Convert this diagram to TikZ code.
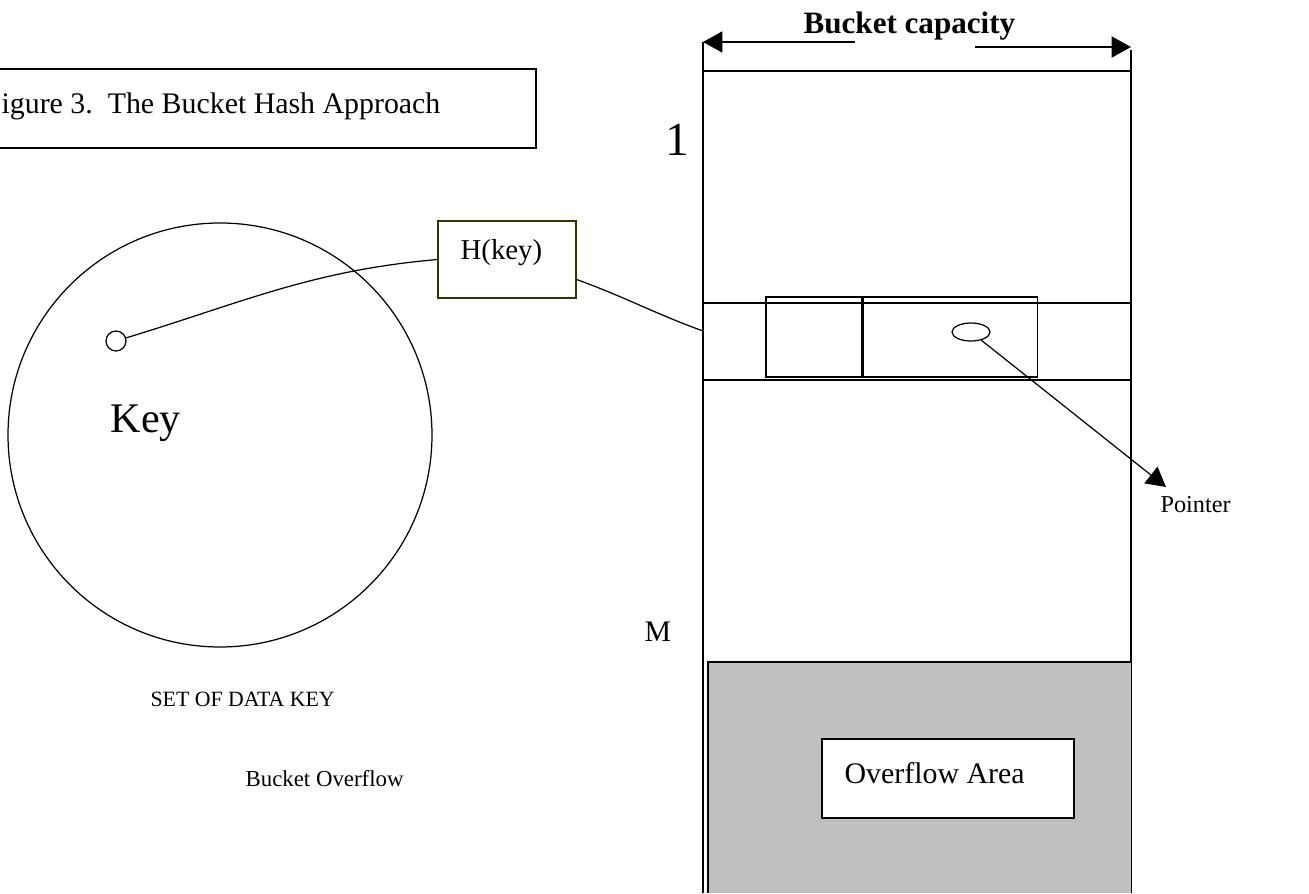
\documentclass[tikz,border=0pt]{standalone}
\usepackage{fontspec}
\setmainfont{Liberation Serif}
\usepackage{tikz}
\usetikzlibrary{shapes.geometric,positioning,arrows.meta,calc}
\definecolor{areagray}{HTML}{C0C0C0}
\definecolor{olive}{HTML}{333300}

\begin{document}
\begin{tikzpicture}[x=0.02cm,y=-0.02cm,line width=0.7pt,
    txt/.style={inner sep=0, anchor=base west, font=\fontsize{#1pt}{#1pt}\selectfont},
    cell/.style={draw, rectangle, inner sep=0, minimum height=80*0.02cm},
    head/.style={-{Triangle[length=11pt,width=12pt]}}]
    \clip (0,0) rectangle (1309,893);

    % title
    \draw (-40,69) rectangle (536,148);
    \node[txt=17] (title) at (1,113) {igure 3.\ \ The Bucket Hash Approach};

    % set of keys
    \draw (220,435) circle (212);
    \node[draw, circle, inner sep=0, minimum size=20*0.02cm] (key) at (116,341) {};
    \node[txt=24] (keylbl) at (110,432) {Key};
    \node[txt=12.4] (setlbl) at (150,706) {SET OF DATA KEY};
    \node[txt=13] (ovlbl) at (245,786) {Bucket Overflow};

    % hash function
    \node[draw=olive, rectangle, inner sep=0, minimum width=138*0.02cm, minimum height=77*0.02cm] (hkey) at (507,259.5) {};
    \node[txt=16.4] (hlbl) at (460,259) {H(key)};

    % bucket table
    \coordinate (btl) at (703,71);
    \coordinate (btr) at (1131,71);
    \draw (703,42) -- (703,893);
    \draw (1131,50) -- (1131,893);
    \draw (btl) -- (btr);
    \draw (703,303) -- (1131,303);
    \draw (703,380) -- (1131,380);
    \coordinate (slot) at (703,331);

    \node[txt=17.7, font=\bfseries\fontsize{17.7pt}{17.7pt}\selectfont] (cap) at (803,33) {Bucket capacity};
    \coordinate (capl) at (855,42);
    \coordinate (capr) at (975,47);
    \draw[head] (capl) -- (703,42);
    \draw[head] (capr) -- (1131,47);

    \node[txt=27] (first) at (665,155) {1};
    \node[txt=17] (last) at (644,641) {M};

    % record with pointer
    \node[cell, minimum width=96*0.02cm] (recl) at (814,337) {};
    \node[cell, minimum width=174*0.02cm, right=0pt of recl] (recr) {};
    \node[draw, ellipse, inner sep=0, minimum width=38*0.02cm, minimum height=18*0.02cm] (ptr) at (971,332) {};
    \coordinate (tip) at (1166,487);
    \draw[head] (ptr) -- (tip);
    \node[txt=13.8] (ptrlbl) at (1160,512) {Pointer};

    % overflow area
    \fill[areagray] (708,662) rectangle (1131,893);
    \draw (708,893) -- (708,662) -- (1131,662);
    \node[draw, fill=white, rectangle, inner sep=0, minimum width=252*0.02cm, minimum height=79*0.02cm] (ovf) at (948,778.5) {};
    \node[txt=17] (ovflbl) at (844,783) {Overflow Area};

    % links
    \draw (key) to[out=17, in=185] (hkey.west);
    \draw ($(hkey.east)+(0,20)$) to[out=-20, in=160] (slot);
\end{tikzpicture}
\end{document}
